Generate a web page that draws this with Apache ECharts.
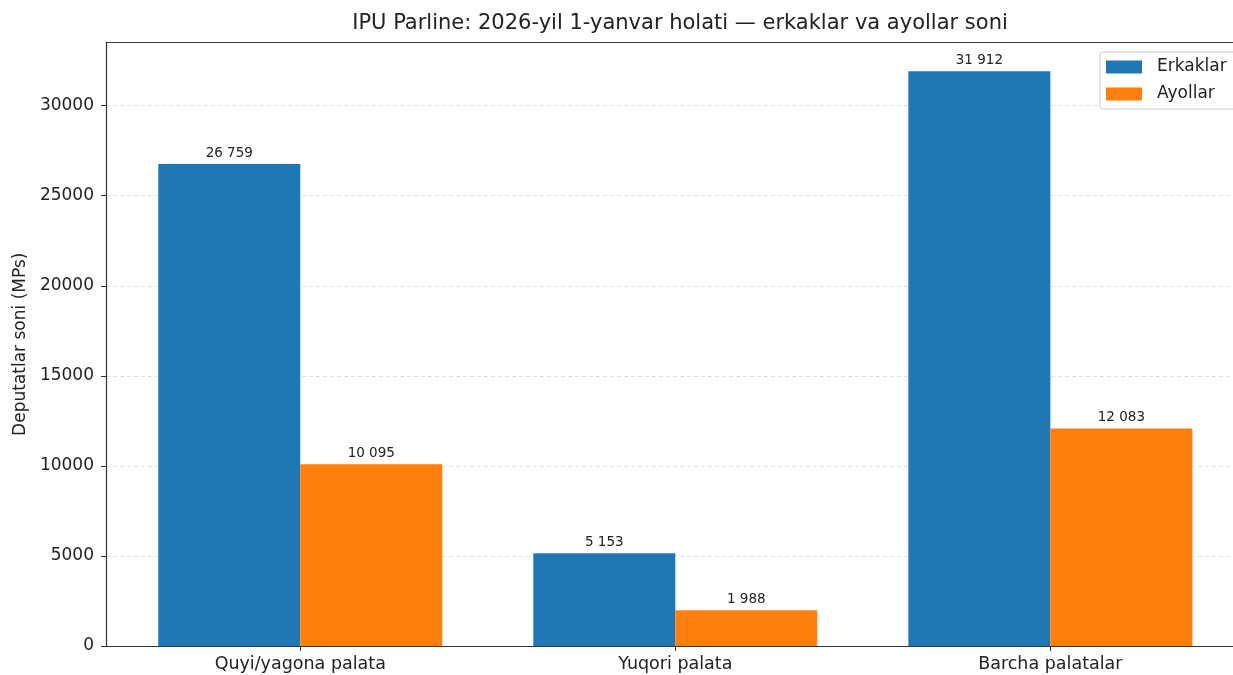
<!DOCTYPE html>
<html>
<head>
<meta charset="utf-8">
<script src="https://cdn.jsdelivr.net/npm/echarts@6/dist/echarts.min.js"></script>
<style>
html,body{margin:0;padding:0;background:#fff;overflow:hidden;}
#chart{width:1233px;height:675px;}
</style>
</head>
<body>
<div id="chart"></div>
<script>
const categories = ['Quyi/yagona palata', 'Yuqori palata', 'Barcha palatalar'];
const erkaklar = [26759, 5153, 31912];
const ayollar = [10095, 1988, 12083];
const seriesNames = ['Erkaklar', 'Ayollar'];
const titleText = 'IPU Parline: 2026-yil 1-yanvar holati — erkaklar va ayollar soni';
const yAxisName = 'Deputatlar soni (MPs)';

const FONT = 'DejaVu Sans';
const fmt = v => String(v).replace(/\B(?=(\d{3})+(?!\d))/g, ' ');
const yMax = Math.max(...erkaklar, ...ayollar) * 1.05;
const catIdx = categories.map((c, i) => i);
// visible x-range (the reference's plot area runs past the right edge of the image)
const xMin = -0.518, xMax = 2.487;

const labelCfg = {
  show: true, position: 'top', distance: 4,
  fontFamily: FONT, fontSize: 13.5, color: '#222',
  formatter: p => fmt(p.value[1])
};

const chart = echarts.init(document.getElementById('chart'), null, {renderer: 'canvas'});
chart.setOption({
  animation: false,
  backgroundColor: '#fff',
  title: {
    text: titleText, left: 675, top: 8, textAlign: 'center',
    textStyle: {fontFamily: FONT, fontSize: 21, fontWeight: 'normal', color: '#222'}
  },
  legend: {
    data: seriesNames, orient: 'vertical', left: 1100, top: 52,
    padding: [5, 6, 5, 6], itemWidth: 36, itemHeight: 13, itemGap: 7,
    icon: 'rect', borderColor: '#cccccc', borderWidth: 1, borderRadius: 3,
    backgroundColor: 'rgba(255,255,255,0.8)',
    textStyle: {fontFamily: FONT, fontSize: 17, color: '#222', lineHeight: 20, padding: [0, 10, 0, 10]}
  },
  grid: {
    left: 106, right: 0, top: 42.5, bottom: 29, containLabel: false, show: false
  },
  xAxis: [{
    type: 'value', min: xMin, max: xMax,
    splitLine: {show: false},
    axisLine: {show: true, onZero: false, lineStyle: {color: '#333', width: 1.2}},
    axisTick: {show: true, customValues: catIdx, length: 5, lineStyle: {color: '#333'}},
    axisLabel: {
      customValues: catIdx, margin: 9,
      fontFamily: FONT, fontSize: 17.5, color: '#222',
      formatter: v => categories[Math.round(v)] || ''
    }
  }, {
    type: 'value', position: 'top', min: xMin, max: xMax,
    splitLine: {show: false}, axisTick: {show: false}, axisLabel: {show: false},
    axisLine: {show: true, onZero: false, lineStyle: {color: '#333', width: 1.2}}
  }],
  yAxis: {
    type: 'value', min: 0, max: yMax, interval: 5000,
    name: yAxisName, nameLocation: 'middle', nameGap: 76,
    nameTextStyle: {fontFamily: FONT, fontSize: 17, color: '#222'},
    axisLine: {show: true, onZero: false, lineStyle: {color: '#333', width: 1.2}},
    axisTick: {show: true, length: 5, lineStyle: {color: '#333'}},
    axisLabel: {
      margin: 12, fontFamily: FONT, fontSize: 17, color: '#222',
      showMaxLabel: false,
      formatter: v => (v % 5000 === 0 ? String(v) : '')
    },
    splitLine: {show: true, showMaxLine: false, showMinLine: false,
      lineStyle: {color: '#d9d9d9', width: 0.8, type: [4, 3]}}
  },
  series: [
    {
      name: seriesNames[0], type: 'bar', barWidth: 142, barGap: '0%',
      itemStyle: {color: '#1f77b4'},
      label: labelCfg,
      data: erkaklar.map((v, i) => [i, v])
    },
    {
      name: seriesNames[1], type: 'bar', barWidth: 142, barGap: '0%',
      itemStyle: {color: '#ff7f0e'},
      label: labelCfg,
      data: ayollar.map((v, i) => [i, v])
    }
  ]
});
</script>
</body>
</html>
